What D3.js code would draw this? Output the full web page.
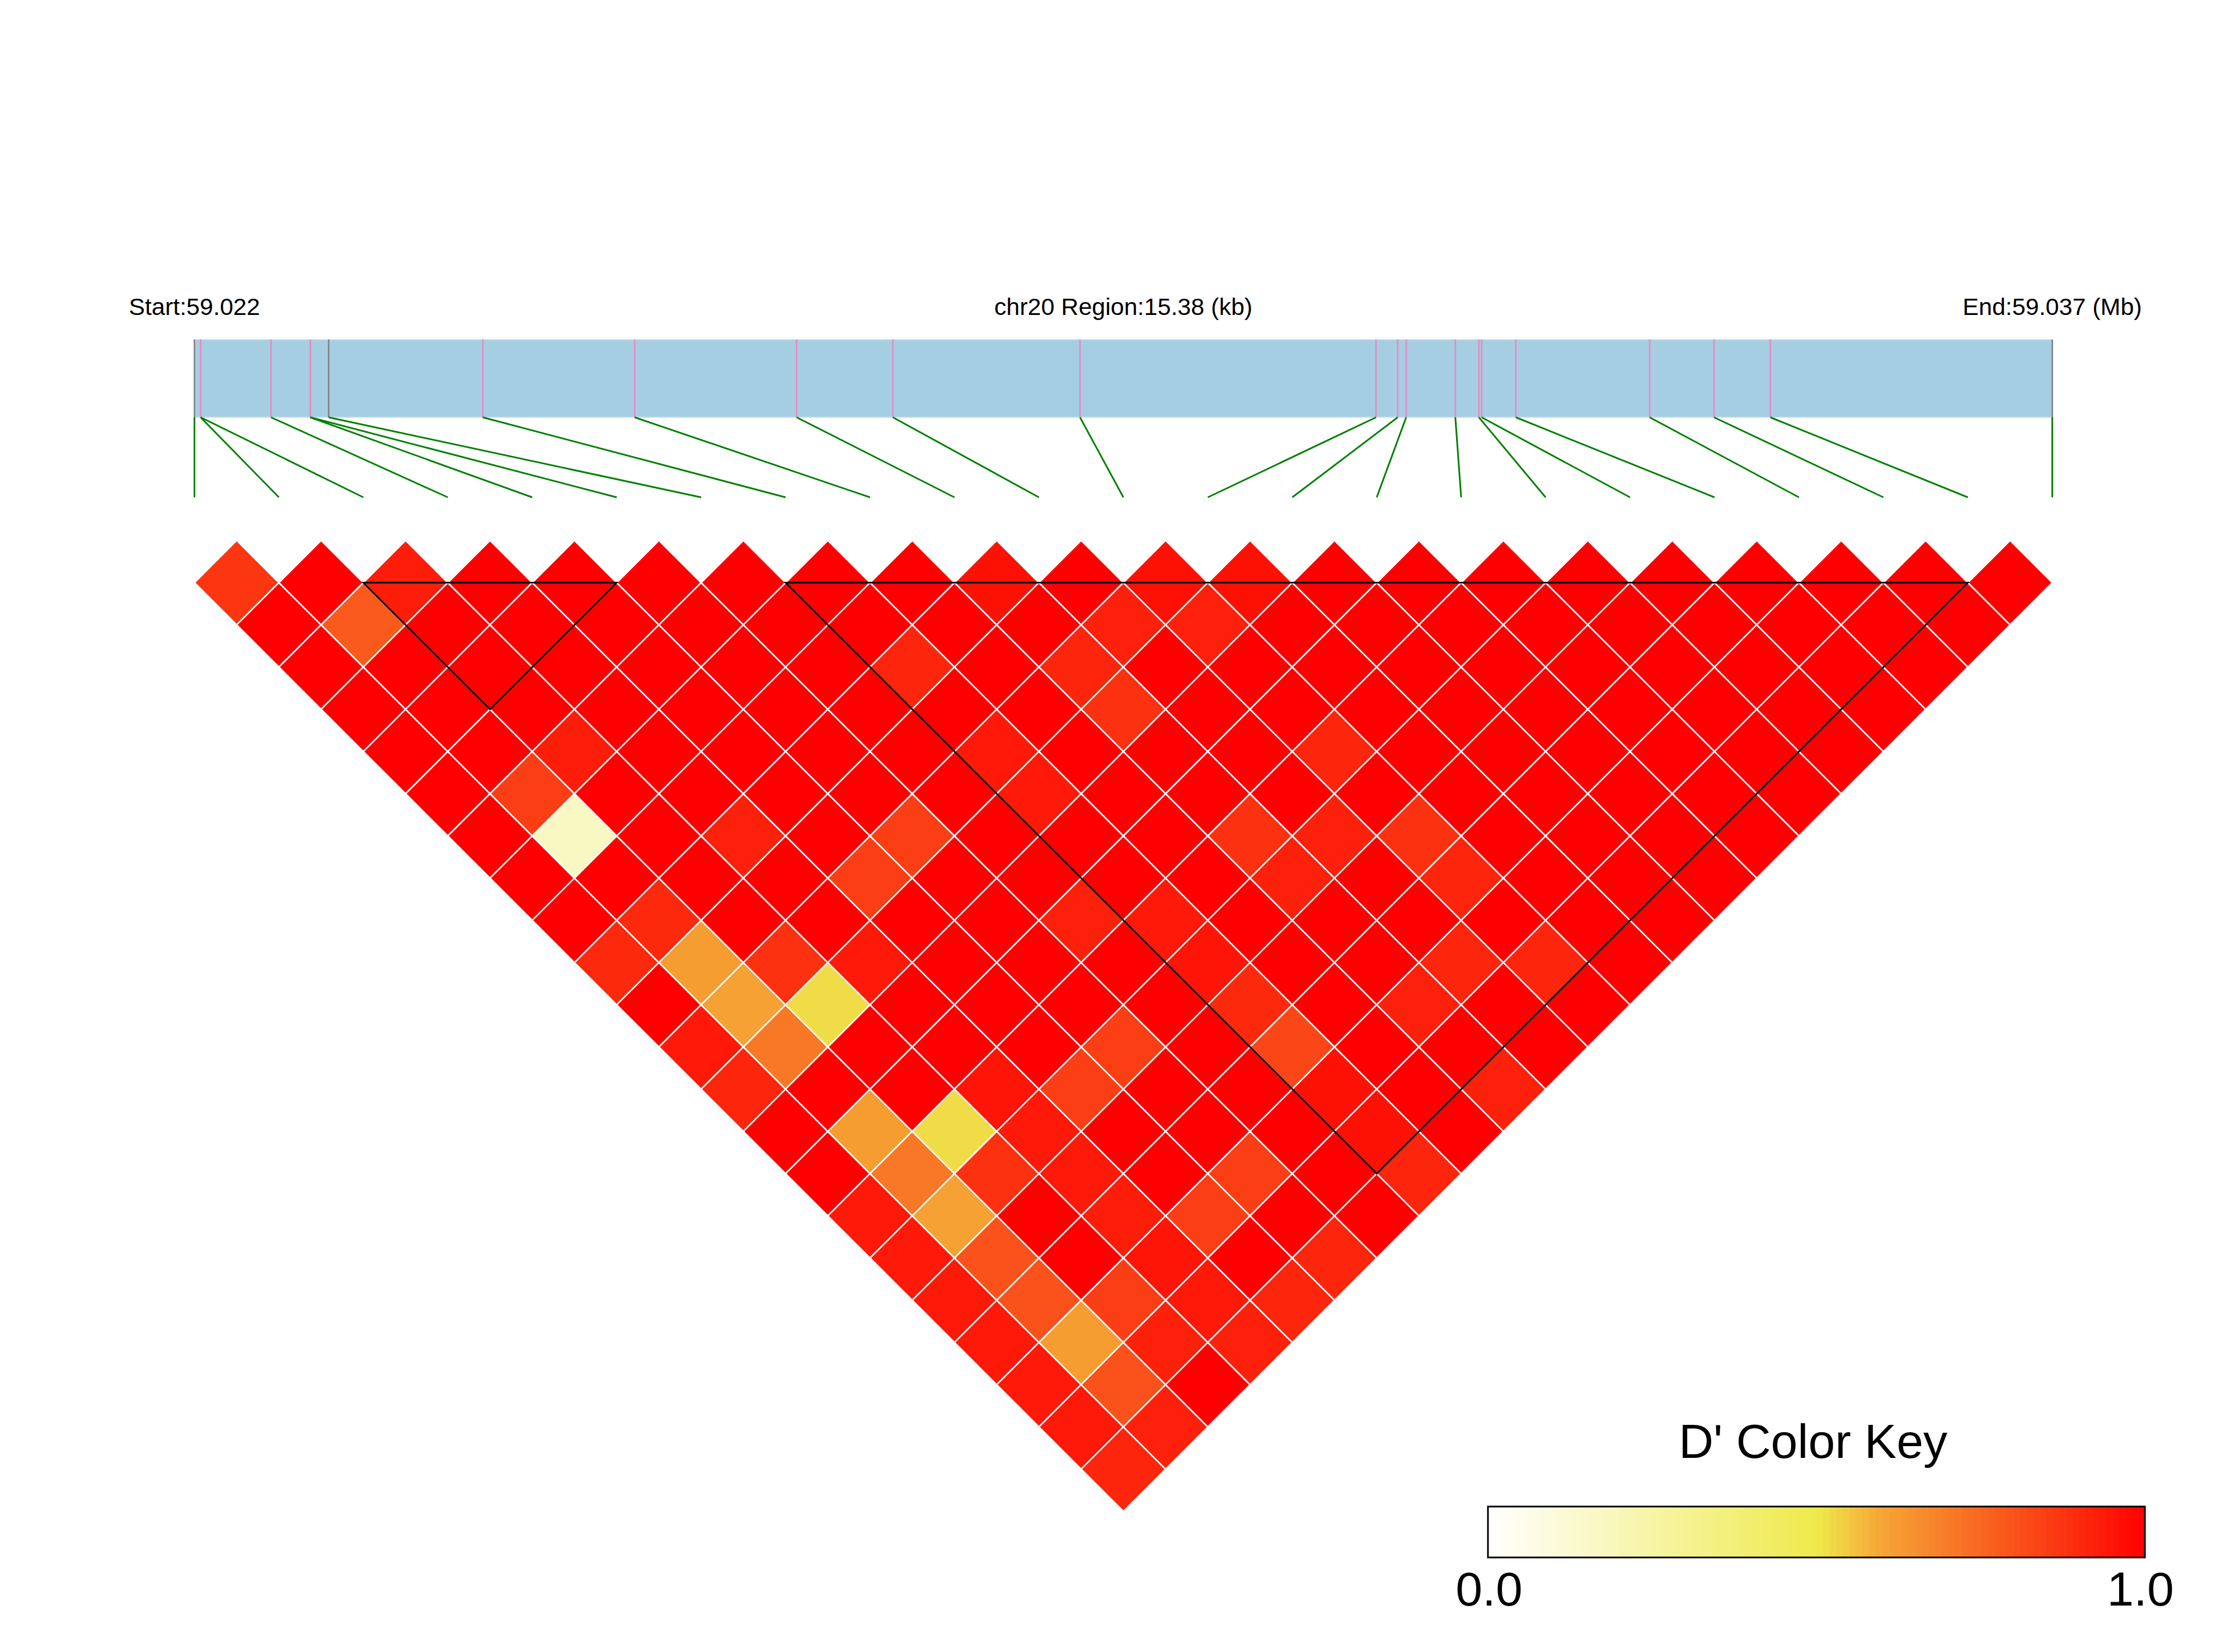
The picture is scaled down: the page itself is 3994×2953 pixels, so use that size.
<!DOCTYPE html>
<html><head><meta charset="utf-8">
<script src="https://cdn.jsdelivr.net/npm/d3@7"></script>
<style>html,body{margin:0;padding:0;background:#fff}svg{display:block}</style>
</head><body>
<svg id="chart" width="3994" height="2953"></svg>
<script>
// ---------------- data ----------------
const chrom = "chr20";
// SNP positions (bp)
const positions = [59021650, 59021701, 59021702, 59022284, 59022609, 59022610, 59022761,
  59024037, 59025294, 59026635, 59027432, 59028981, 59031431, 59031611, 59031681,
  59032088, 59032283, 59032306, 59032589, 59033697, 59034230, 59034696, 59037030];
// SNP marker type in the bar: 1 = pink, 0 = grey
const snpType = [0,1,1,1,1,1,0,1,1,1,1,1,1,1,1,1,1,1,1,1,1,1,0];
// D' lower triangle: row r holds D'(i, r+1) for i = 0..r
const dprime = [
  [0.87],
  [1,1],
  [1,0.78,0.93],
  [1,1,1,1],
  [1,1,1,1,1],
  [1,1,1,1,1,1],
  [1,0.85,0.93,1,1,1,1],
  [1,0.17,1,1,1,1,1,1],
  [1,1,1,1,1,1,1,1,1],
  [0.90,0.90,1,0.92,1,1,1,0.91,1,0.96],
  [1,0.62,1,1,1,1,1,1,1,1,1],
  [0.94,0.61,0.88,1,0.85,0.85,1,0.94,1,0.91,0.92,0.96],
  [0.91,0.71,0.52,0.94,1,1,1,0.94,1,0.88,1,0.92,0.96],
  [1,1,1,1,1,1,1,1,1,1,1,1,1,1],
  [1,0.62,1,1,1,1,0.92,1,1,1,1,1,1,1,1],
  [0.94,0.71,0.52,0.95,1,1,1,0.94,1,0.88,1,0.91,1,1,1,1],
  [0.94,0.61,0.88,0.94,0.85,0.85,1,0.95,1,0.92,0.92,1,1,1,1,1,1],
  [0.94,0.80,1,0.94,1,1,1,0.90,1,1,1,0.88,1,1,1,1,1,1],
  [0.94,0.80,1,0.93,1,1,1,0.83,1,1,1,0.91,1,1,1,1,1,1,1],
  [0.94,0.62,0.85,0.95,0.85,0.85,1,0.96,1,0.92,0.91,1,1,1,1,1,1,1,1,1],
  [0.94,0.80,0.92,0.94,1,1,1,0.96,1,1,1,0.91,1,1,1,1,1,1,1,1,1],
  [0.91,0.92,1,0.92,0.91,0.91,1,0.91,1,0.92,1,1,1,1,1,1,1,1,1,1,1,1]
];
// LD blocks (first SNP index, last SNP index)
const blocks = [[2,5],[7,21]];
const keyTitle = "D' Color Key";
const keyTicks = [0, 1];

// ---------------- drawing ----------------
const svg = d3.select("#chart");
const font = "'Liberation Sans', Arial, Helvetica, sans-serif";
const n = positions.length;

const xGen = d3.scaleLinear().domain([positions[0], positions[n-1]]).range([347.5, 3667.5]);
const xSnp = d3.scalePoint().domain(d3.range(n)).range([347.5, 3667.5]);
const half = xSnp.step() / 2;
const y0 = 1041.5;
const color = d3.scaleLinear().domain([0, 0.5, 0.6, 1])
  .range(["#FFFFFF", "#EFEA4B", "#F5A535", "#FF0000"]).clamp(true);

// header texts
const startMb = (positions[0] / 1e6).toFixed(3);
const endMb = (positions[n-1] / 1e6).toFixed(3);
const regionKb = ((positions[n-1] - positions[0]) / 1000).toFixed(2);
const hdr = svg.append("g").attr("font-family", font).attr("font-size", 43).attr("fill", "#000");
hdr.append("text").attr("x", xGen.range()[0]).attr("y", 563).attr("text-anchor", "middle").text("Start:" + startMb);
hdr.append("text").attr("x", (xGen.range()[0] + xGen.range()[1]) / 2).attr("y", 563).attr("text-anchor", "middle")
  .text(chrom + " Region:" + regionKb + " (kb)");
hdr.append("text").attr("x", xGen.range()[1]).attr("y", 563).attr("text-anchor", "middle").text("End:" + endMb + " (Mb)");

// gene bar
const barTop = 607, barBot = 746, linkBot = 889;
svg.append("rect").attr("x", xGen.range()[0]).attr("y", barTop)
  .attr("width", xGen.range()[1] - xGen.range()[0]).attr("height", barBot - barTop)
  .attr("fill", "#A6CEE3").attr("stroke", "#CFE2EE").attr("stroke-width", 2);

svg.append("g").selectAll("line").data(positions).join("line")
  .attr("x1", d => xGen(d)).attr("x2", d => xGen(d))
  .attr("y1", barTop).attr("y2", barBot)
  .attr("stroke", (d, i) => snpType[i] ? "#E98AC4" : "#858585").attr("stroke-width", 2.8);

// links to heatmap
svg.append("g").selectAll("line").data(positions).join("line")
  .attr("x1", d => xGen(d)).attr("y1", barBot)
  .attr("x2", (d, i) => xSnp(i)).attr("y2", linkBot)
  .attr("stroke", "#008000").attr("stroke-width", 3);

// LD cells
const cells = [];
dprime.forEach((row, r) => row.forEach((v, i) => cells.push({i: i, j: r + 1, v: v})));
const diamond = d => {
  const cx = (xSnp(d.i) + xSnp(d.j)) / 2;
  const cy = y0 + (xSnp(d.j) - xSnp(d.i)) / 2 - half;
  return `M${cx - half},${cy}L${cx},${cy - half}L${cx + half},${cy}L${cx},${cy + half}Z`;
};
svg.append("g").selectAll("path").data(cells).join("path")
  .attr("d", diamond)
  .attr("fill", d => color(d.v))
  .attr("stroke", "#FFFFFF").attr("stroke-width", 2.6).attr("stroke-linejoin", "miter");

// blocks
svg.append("g").selectAll("path").data(blocks).join("path")
  .attr("d", b => {
    const a = xSnp(b[0]), c = xSnp(b[1]);
    return `M${a},${y0}L${c},${y0}L${(a + c) / 2},${y0 + (c - a) / 2}Z`;
  })
  .attr("fill", "none").attr("stroke", "#000").attr("stroke-width", 3).attr("stroke-linejoin", "miter");

// color key
const kx0 = 2659, kx1 = 3833, ky0 = 2693, ky1 = 2784;
const kScale = d3.scaleLinear().domain([0, 1]).range([kx0, kx1]);
const nStrip = 100;
const key = svg.append("g");
key.selectAll("rect").data(d3.range(nStrip)).join("rect")
  .attr("x", k => kScale(k / nStrip)).attr("y", ky0)
  .attr("width", (kx1 - kx0) / nStrip + 0.6).attr("height", ky1 - ky0)
  .attr("fill", k => color((k + 0.5) / nStrip));
key.append("rect").attr("x", kx0).attr("y", ky0).attr("width", kx1 - kx0).attr("height", ky1 - ky0)
  .attr("fill", "none").attr("stroke", "#000").attr("stroke-width", 3);
key.append("text").attr("x", (kx0 + kx1) / 2 - 6).attr("y", 2606).attr("text-anchor", "middle")
  .attr("font-family", font).attr("font-size", 86).text(keyTitle);
key.selectAll("text.tick").data(keyTicks).join("text").attr("class", "tick")
  .attr("x", d => kScale(d) + (d ? -8 : 2)).attr("y", 2870).attr("text-anchor", "middle")
  .attr("font-family", font).attr("font-size", 86).text(d => d.toFixed(1));
</script>
</body></html>
